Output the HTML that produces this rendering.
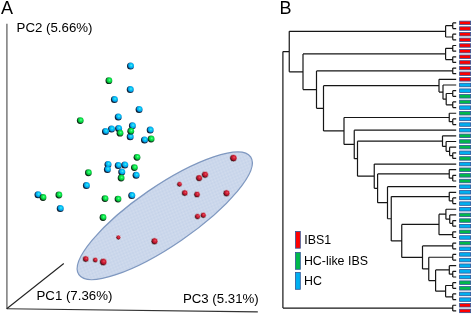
<!DOCTYPE html>
<html><head><meta charset="utf-8"><style>
html,body{margin:0;padding:0;background:#fff;width:472px;height:314px;overflow:hidden}
svg{display:block;will-change:transform}
text{font-family:"Liberation Sans",sans-serif;fill:#000}
</style></head><body>
<svg width="472" height="314" viewBox="0 0 472 314">
<defs>
<radialGradient id="gb" cx="0.6" cy="0.4" r="0.6" fx="0.6" fy="0.4">
<stop offset="0" stop-color="#58eeec"/><stop offset="0.3" stop-color="#08c8f8"/><stop offset="0.58" stop-color="#04aaec"/><stop offset="0.76" stop-color="#0a5c98"/><stop offset="0.9" stop-color="#0c2036"/><stop offset="1" stop-color="#0a1828"/>
</radialGradient>
<radialGradient id="gg" cx="0.6" cy="0.4" r="0.6" fx="0.6" fy="0.4">
<stop offset="0" stop-color="#68ff9c"/><stop offset="0.3" stop-color="#10f050"/><stop offset="0.58" stop-color="#08cc3e"/><stop offset="0.76" stop-color="#0a7a2e"/><stop offset="0.9" stop-color="#0a2a14"/><stop offset="1" stop-color="#08200e"/>
</radialGradient>
<radialGradient id="gr" cx="0.6" cy="0.4" r="0.6" fx="0.6" fy="0.4">
<stop offset="0" stop-color="#e65464"/><stop offset="0.3" stop-color="#d22438"/><stop offset="0.58" stop-color="#b4142c"/><stop offset="0.76" stop-color="#6c0a1a"/><stop offset="0.9" stop-color="#2c060c"/><stop offset="1" stop-color="#20040a"/>
</radialGradient>
<pattern id="chk" width="2" height="2" patternUnits="userSpaceOnUse">
<rect width="2" height="2" fill="#d3ddee"/><rect width="1" height="1" fill="#c3d1e8"/><rect x="1" y="1" width="1" height="1" fill="#c3d1e8"/>
</pattern>
</defs>
<text x="0.9" y="13.8" font-size="18">A</text>
<text x="279.6" y="13.9" font-size="18">B</text>
<text x="16.6" y="31.8" font-size="13.25">PC2 (5.66%)</text>
<text x="36.5" y="300.2" font-size="13.25">PC1 (7.36%)</text>
<text x="182.9" y="303.0" font-size="13.25">PC3 (5.31%)</text>
<line x1="6.9" y1="23.7" x2="6.9" y2="308.7" stroke="#707070" stroke-width="1.4"/>
<line x1="6.7" y1="308.7" x2="257.8" y2="311.9" stroke="#333" stroke-width="1.1"/>
<line x1="6.7" y1="308.7" x2="63.8" y2="263.5" stroke="#222" stroke-width="1.1"/>
<circle cx="130.5" cy="66.1" r="3.5" fill="url(#gb)"/><circle cx="130.25" cy="89.6" r="3.5" fill="url(#gb)"/><circle cx="114.4" cy="99.5" r="3.5" fill="url(#gb)"/><circle cx="139.1" cy="109.4" r="3.5" fill="url(#gb)"/><circle cx="118.25" cy="116.9" r="3.5" fill="url(#gb)"/><circle cx="132.4" cy="125.85" r="3.5" fill="url(#gb)"/><circle cx="118.6" cy="128.4" r="3.5" fill="url(#gb)"/><circle cx="111.5" cy="129" r="3.5" fill="url(#gb)"/><circle cx="105.5" cy="131.4" r="3.5" fill="url(#gb)"/><circle cx="130.2" cy="136.75" r="3.5" fill="url(#gb)"/><circle cx="150.2" cy="130.05" r="3.5" fill="url(#gb)"/><circle cx="144.5" cy="139.9" r="3.5" fill="url(#gb)"/><circle cx="108" cy="164.4" r="3.5" fill="url(#gb)"/><circle cx="107.4" cy="169.5" r="3.5" fill="url(#gb)"/><circle cx="118.25" cy="165.5" r="3.5" fill="url(#gb)"/><circle cx="124.75" cy="164.9" r="3.5" fill="url(#gb)"/><circle cx="121.75" cy="171.9" r="3.5" fill="url(#gb)"/><circle cx="136.1" cy="175.25" r="3.5" fill="url(#gb)"/><circle cx="86.4" cy="185.6" r="3.5" fill="url(#gb)"/><circle cx="131.75" cy="195.6" r="3.5" fill="url(#gb)"/><circle cx="38" cy="194.75" r="3.5" fill="url(#gb)"/><circle cx="60.25" cy="208.5" r="3.5" fill="url(#gb)"/><circle cx="108.9" cy="80.7" r="3.4" fill="url(#gg)"/><circle cx="80.25" cy="120.6" r="3.4" fill="url(#gg)"/><circle cx="120" cy="133.2" r="3.4" fill="url(#gg)"/><circle cx="130.75" cy="131.2" r="3.4" fill="url(#gg)"/><circle cx="151.1" cy="139" r="3.4" fill="url(#gg)"/><circle cx="137" cy="157.3" r="3.4" fill="url(#gg)"/><circle cx="134.4" cy="167.6" r="3.4" fill="url(#gg)"/><circle cx="121.1" cy="178" r="3.4" fill="url(#gg)"/><circle cx="88.4" cy="172.75" r="3.4" fill="url(#gg)"/><circle cx="105" cy="198.6" r="3.4" fill="url(#gg)"/><circle cx="118" cy="199.1" r="3.4" fill="url(#gg)"/><circle cx="103" cy="217.5" r="3.4" fill="url(#gg)"/><circle cx="43" cy="197.5" r="3.4" fill="url(#gg)"/><circle cx="58.9" cy="195" r="3.4" fill="url(#gg)"/>
<ellipse cx="164.76" cy="215.78" rx="104.14" ry="29.61" transform="rotate(-34.45 164.76 215.78)" fill="url(#chk)" stroke="#7f98c0" stroke-width="1.25"/>
<circle cx="233.4" cy="158.1" r="3.70" fill="url(#gr)" stroke="#e8eef8" stroke-width="0.6"/><circle cx="199.1" cy="178.1" r="3.45" fill="url(#gr)" stroke="#e8eef8" stroke-width="0.6"/><circle cx="205" cy="174.7" r="3.45" fill="url(#gr)" stroke="#e8eef8" stroke-width="0.6"/><circle cx="179.5" cy="184.25" r="2.70" fill="url(#gr)" stroke="#e8eef8" stroke-width="0.6"/><circle cx="184.75" cy="193" r="3.20" fill="url(#gr)" stroke="#e8eef8" stroke-width="0.6"/><circle cx="197" cy="194.5" r="3.20" fill="url(#gr)" stroke="#e8eef8" stroke-width="0.6"/><circle cx="226.5" cy="193.25" r="3.45" fill="url(#gr)" stroke="#e8eef8" stroke-width="0.6"/><circle cx="197.5" cy="216.5" r="2.95" fill="url(#gr)" stroke="#e8eef8" stroke-width="0.6"/><circle cx="203.25" cy="215.25" r="2.95" fill="url(#gr)" stroke="#e8eef8" stroke-width="0.6"/><circle cx="118.4" cy="237.5" r="2.45" fill="url(#gr)" stroke="#e8eef8" stroke-width="0.6"/><circle cx="154.5" cy="241.25" r="3.45" fill="url(#gr)" stroke="#e8eef8" stroke-width="0.6"/><circle cx="85.75" cy="259" r="3.20" fill="url(#gr)" stroke="#e8eef8" stroke-width="0.6"/><circle cx="95.25" cy="260" r="2.70" fill="url(#gr)" stroke="#e8eef8" stroke-width="0.6"/><circle cx="103.25" cy="262" r="3.70" fill="url(#gr)" stroke="#e8eef8" stroke-width="0.6"/>
<path d="M282.90 51.58V308.07M282.90 51.58H289.25M282.90 308.07H452.75M289.25 31.37V71.79M289.25 31.37H445.60M289.25 71.79H303.00M445.60 25.72V37.02M445.60 25.72H452.75M445.60 37.02H452.75M452.75 22.90V28.55M452.75 22.90H456.20M452.75 28.55H456.20M452.75 34.19V39.84M452.75 34.19H456.20M452.75 39.84H456.20M303.00 53.96V89.62M303.00 53.96H445.60M303.00 89.62H316.50M445.60 48.31V59.61M445.60 48.31H452.75M445.60 59.61H452.75M452.75 45.49V51.13M452.75 45.49H456.20M452.75 51.13H456.20M452.75 56.78V62.43M452.75 56.78H456.20M452.75 62.43H456.20M316.50 70.90V108.34M316.50 70.90H452.75M316.50 108.34H323.50M452.75 68.08V73.72M452.75 68.08H456.20M452.75 73.72H456.20M323.50 85.72V130.96M323.50 85.72H439.00M323.50 130.96H344.00M439.00 79.37V92.08M439.00 79.37H456.20M439.00 92.08H443.00M443.00 85.02V99.13M443.00 85.02H456.20M443.00 99.13H446.20M446.20 93.49V104.78M446.20 93.49H452.75M446.20 104.78H452.75M452.75 90.66V96.31M452.75 90.66H456.20M452.75 96.31H456.20M452.75 101.96V107.60M452.75 101.96H456.20M452.75 107.60H456.20M344.00 117.49V144.43M344.00 117.49H449.25M344.00 144.43H354.25M449.25 113.25V121.72M449.25 113.25H456.20M449.25 121.72H452.75M452.75 118.90V124.55M452.75 118.90H456.20M452.75 124.55H456.20M354.25 130.19V158.67M354.25 130.19H456.20M354.25 158.67H357.50M357.50 141.13V176.20M357.50 141.13H442.50M357.50 176.20H374.25M442.50 135.84V146.43M442.50 135.84H456.20M442.50 146.43H446.10M446.10 141.49V151.37M446.10 141.49H456.20M446.10 151.37H449.60M449.60 147.13V155.60M449.60 147.13H456.20M449.60 155.60H452.75M452.75 152.78V158.43M452.75 152.78H456.20M452.75 158.43H456.20M374.25 164.08V188.33M374.25 164.08H456.20M374.25 188.33H377.60M377.60 173.96V202.70M377.60 173.96H449.25M377.60 202.70H387.50M449.25 169.72V178.19M449.25 169.72H456.20M449.25 178.19H452.75M452.75 175.37V181.02M452.75 175.37H456.20M452.75 181.02H456.20M387.50 186.66V218.74M387.50 186.66H456.20M387.50 218.74H391.25M391.25 196.55V240.93M391.25 196.55H449.25M391.25 240.93H401.75M449.25 192.31V200.78M449.25 192.31H456.20M449.25 200.78H452.75M452.75 197.96V203.60M452.75 197.96H456.20M452.75 203.60H456.20M401.75 224.43V257.43M401.75 224.43H439.00M401.75 257.43H422.50M439.00 214.19V234.66M439.00 214.19H445.90M439.00 234.66H452.75M445.90 209.25V219.13M445.90 209.25H456.20M445.90 219.13H449.75M449.75 214.90V223.37M449.75 214.90H456.20M449.75 223.37H452.75M452.75 220.55V226.19M452.75 220.55H456.20M452.75 226.19H456.20M452.75 231.84V237.49M452.75 231.84H456.20M452.75 237.49H456.20M422.50 245.96V268.90M422.50 245.96H452.75M422.50 268.90H428.75M452.75 243.13V248.78M452.75 243.13H456.20M452.75 248.78H456.20M428.75 257.25V280.54M428.75 257.25H452.75M428.75 280.54H435.60M452.75 254.43V260.07M452.75 254.43H456.20M452.75 260.07H456.20M435.60 269.96V291.13M435.60 269.96H449.30M435.60 291.13H445.60M449.30 265.72V274.19M449.30 265.72H456.20M449.30 274.19H452.75M452.75 271.37V277.01M452.75 271.37H456.20M452.75 277.01H456.20M445.60 285.49V296.78M445.60 285.49H452.75M445.60 296.78H452.75M452.75 282.66V288.31M452.75 282.66H456.20M452.75 288.31H456.20M452.75 293.96V299.60M452.75 293.96H456.20M452.75 299.60H456.20M452.75 305.25V310.90M452.75 305.25H456.20M452.75 310.90H456.20" stroke="#161616" stroke-width="1.2" fill="none"/>
<rect x="459.6" y="21.15" width="11" height="3.5" fill="#ff0000" stroke="#2f5597" stroke-width="0.8"/><rect x="459.6" y="26.80" width="11" height="3.5" fill="#ff0000" stroke="#2f5597" stroke-width="0.8"/><rect x="459.6" y="32.44" width="11" height="3.5" fill="#ff0000" stroke="#2f5597" stroke-width="0.8"/><rect x="459.6" y="38.09" width="11" height="3.5" fill="#ff0000" stroke="#2f5597" stroke-width="0.8"/><rect x="459.6" y="43.74" width="11" height="3.5" fill="#ff0000" stroke="#2f5597" stroke-width="0.8"/><rect x="459.6" y="49.38" width="11" height="3.5" fill="#ff0000" stroke="#2f5597" stroke-width="0.8"/><rect x="459.6" y="55.03" width="11" height="3.5" fill="#ff0000" stroke="#2f5597" stroke-width="0.8"/><rect x="459.6" y="60.68" width="11" height="3.5" fill="#ff0000" stroke="#2f5597" stroke-width="0.8"/><rect x="459.6" y="66.33" width="11" height="3.5" fill="#ff0000" stroke="#2f5597" stroke-width="0.8"/><rect x="459.6" y="71.97" width="11" height="3.5" fill="#ff0000" stroke="#2f5597" stroke-width="0.8"/><rect x="459.6" y="77.62" width="11" height="3.5" fill="#ff0000" stroke="#2f5597" stroke-width="0.8"/><rect x="459.6" y="83.27" width="11" height="3.5" fill="#00b0f0" stroke="#2f5597" stroke-width="0.8"/><rect x="459.6" y="88.91" width="11" height="3.5" fill="#00b0f0" stroke="#2f5597" stroke-width="0.8"/><rect x="459.6" y="94.56" width="11" height="3.5" fill="#00b94a" stroke="#2f5597" stroke-width="0.8"/><rect x="459.6" y="100.21" width="11" height="3.5" fill="#00b94a" stroke="#2f5597" stroke-width="0.8"/><rect x="459.6" y="105.85" width="11" height="3.5" fill="#00b0f0" stroke="#2f5597" stroke-width="0.8"/><rect x="459.6" y="111.50" width="11" height="3.5" fill="#00b94a" stroke="#2f5597" stroke-width="0.8"/><rect x="459.6" y="117.15" width="11" height="3.5" fill="#00b0f0" stroke="#2f5597" stroke-width="0.8"/><rect x="459.6" y="122.80" width="11" height="3.5" fill="#00b0f0" stroke="#2f5597" stroke-width="0.8"/><rect x="459.6" y="128.44" width="11" height="3.5" fill="#00b0f0" stroke="#2f5597" stroke-width="0.8"/><rect x="459.6" y="134.09" width="11" height="3.5" fill="#00b94a" stroke="#2f5597" stroke-width="0.8"/><rect x="459.6" y="139.74" width="11" height="3.5" fill="#00b94a" stroke="#2f5597" stroke-width="0.8"/><rect x="459.6" y="145.38" width="11" height="3.5" fill="#00b94a" stroke="#2f5597" stroke-width="0.8"/><rect x="459.6" y="151.03" width="11" height="3.5" fill="#00b0f0" stroke="#2f5597" stroke-width="0.8"/><rect x="459.6" y="156.68" width="11" height="3.5" fill="#00b94a" stroke="#2f5597" stroke-width="0.8"/><rect x="459.6" y="162.33" width="11" height="3.5" fill="#00b0f0" stroke="#2f5597" stroke-width="0.8"/><rect x="459.6" y="167.97" width="11" height="3.5" fill="#00b94a" stroke="#2f5597" stroke-width="0.8"/><rect x="459.6" y="173.62" width="11" height="3.5" fill="#00b94a" stroke="#2f5597" stroke-width="0.8"/><rect x="459.6" y="179.27" width="11" height="3.5" fill="#00b94a" stroke="#2f5597" stroke-width="0.8"/><rect x="459.6" y="184.91" width="11" height="3.5" fill="#00b0f0" stroke="#2f5597" stroke-width="0.8"/><rect x="459.6" y="190.56" width="11" height="3.5" fill="#00b0f0" stroke="#2f5597" stroke-width="0.8"/><rect x="459.6" y="196.21" width="11" height="3.5" fill="#00b0f0" stroke="#2f5597" stroke-width="0.8"/><rect x="459.6" y="201.85" width="11" height="3.5" fill="#00b0f0" stroke="#2f5597" stroke-width="0.8"/><rect x="459.6" y="207.50" width="11" height="3.5" fill="#00b0f0" stroke="#2f5597" stroke-width="0.8"/><rect x="459.6" y="213.15" width="11" height="3.5" fill="#00b94a" stroke="#2f5597" stroke-width="0.8"/><rect x="459.6" y="218.80" width="11" height="3.5" fill="#00b94a" stroke="#2f5597" stroke-width="0.8"/><rect x="459.6" y="224.44" width="11" height="3.5" fill="#00b0f0" stroke="#2f5597" stroke-width="0.8"/><rect x="459.6" y="230.09" width="11" height="3.5" fill="#00b94a" stroke="#2f5597" stroke-width="0.8"/><rect x="459.6" y="235.74" width="11" height="3.5" fill="#00b0f0" stroke="#2f5597" stroke-width="0.8"/><rect x="459.6" y="241.38" width="11" height="3.5" fill="#00b94a" stroke="#2f5597" stroke-width="0.8"/><rect x="459.6" y="247.03" width="11" height="3.5" fill="#00b0f0" stroke="#2f5597" stroke-width="0.8"/><rect x="459.6" y="252.68" width="11" height="3.5" fill="#00b0f0" stroke="#2f5597" stroke-width="0.8"/><rect x="459.6" y="258.32" width="11" height="3.5" fill="#00b0f0" stroke="#2f5597" stroke-width="0.8"/><rect x="459.6" y="263.97" width="11" height="3.5" fill="#00b0f0" stroke="#2f5597" stroke-width="0.8"/><rect x="459.6" y="269.62" width="11" height="3.5" fill="#00b0f0" stroke="#2f5597" stroke-width="0.8"/><rect x="459.6" y="275.26" width="11" height="3.5" fill="#00b0f0" stroke="#2f5597" stroke-width="0.8"/><rect x="459.6" y="280.91" width="11" height="3.5" fill="#00b94a" stroke="#2f5597" stroke-width="0.8"/><rect x="459.6" y="286.56" width="11" height="3.5" fill="#00b94a" stroke="#2f5597" stroke-width="0.8"/><rect x="459.6" y="292.21" width="11" height="3.5" fill="#00b0f0" stroke="#2f5597" stroke-width="0.8"/><rect x="459.6" y="297.85" width="11" height="3.5" fill="#00b0f0" stroke="#2f5597" stroke-width="0.8"/><rect x="459.6" y="303.50" width="11" height="3.5" fill="#ff0000" stroke="#2f5597" stroke-width="0.8"/><rect x="459.6" y="309.15" width="11" height="3.5" fill="#ff0000" stroke="#2f5597" stroke-width="0.8"/>
<rect x="295.5" y="231.4" width="4.8" height="16.8" fill="#ff0000" stroke="#2f5597" stroke-width="0.8"/>
<rect x="295.5" y="252.5" width="4.8" height="16.8" fill="#00b94a" stroke="#2f5597" stroke-width="0.8"/>
<rect x="295.5" y="272.5" width="4.8" height="16.8" fill="#00b0f0" stroke="#2f5597" stroke-width="0.8"/>
<text x="304.2" y="244.3" font-size="12.4">IBS1</text>
<text x="303.9" y="265.0" font-size="12.4">HC-like IBS</text>
<text x="304.1" y="285.0" font-size="12.4">HC</text>
</svg>
</body></html>
